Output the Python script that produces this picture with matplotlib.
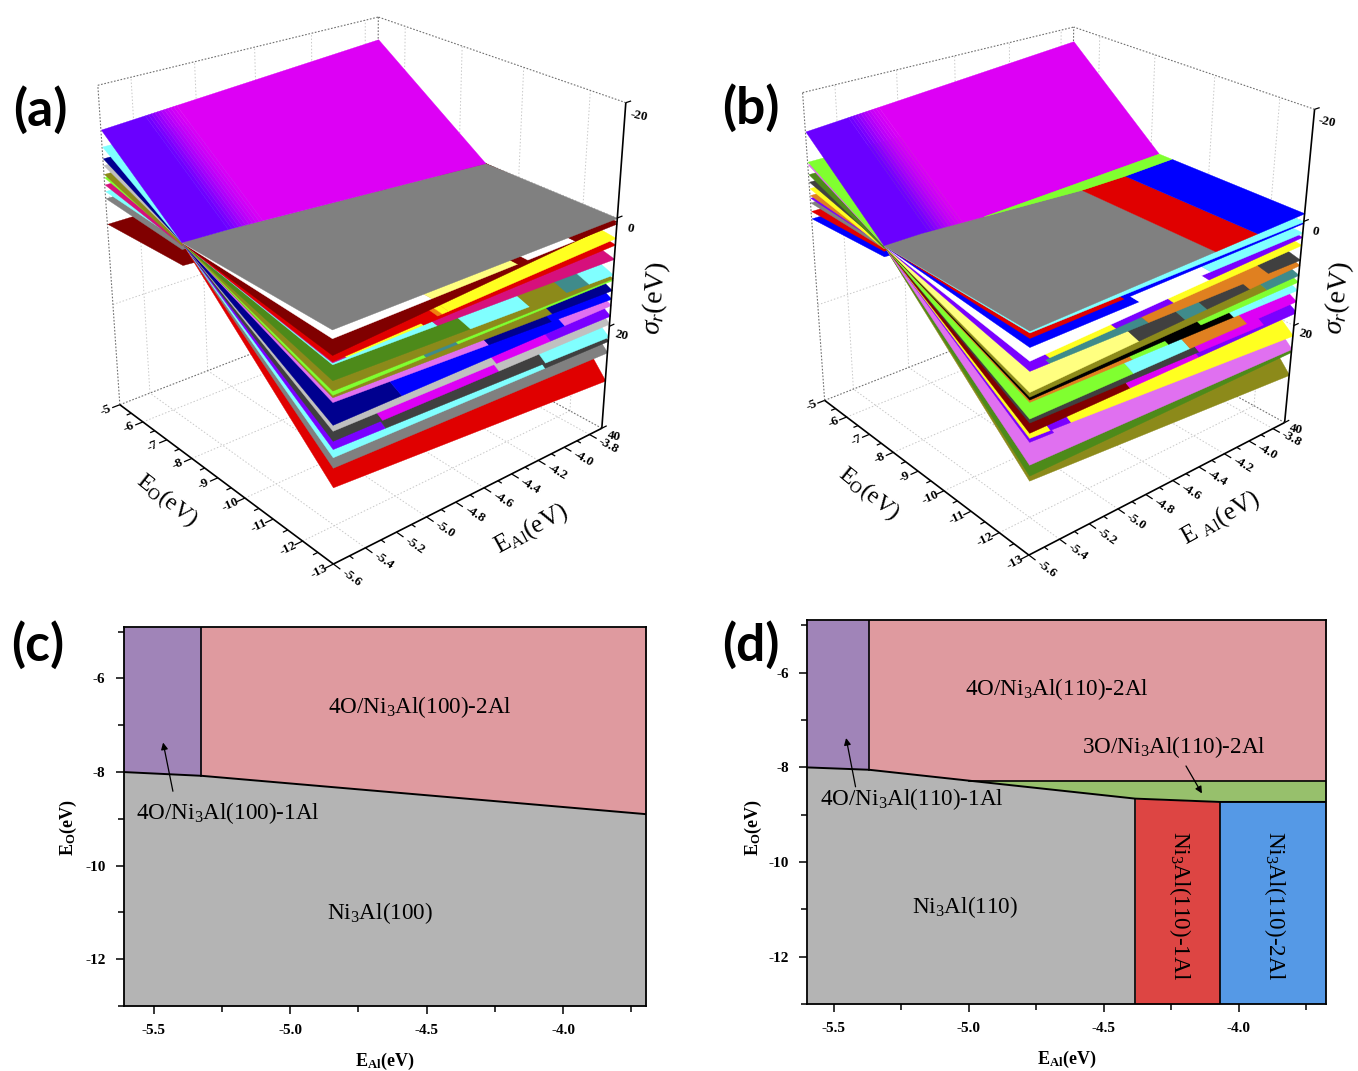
import numpy as np
import matplotlib
matplotlib.use('Agg')
import matplotlib.pyplot as plt
from mpl_toolkits.mplot3d import Axes3D, proj3d
from mpl_toolkits.mplot3d.art3d import Poly3DCollection, Line3DCollection

plt.rcParams['font.family'] = 'Liberation Serif'
plt.rcParams['mathtext.fontset'] = 'custom'
plt.rcParams['mathtext.rm'] = 'Liberation Serif'
plt.rcParams['mathtext.it'] = 'Liberation Serif:italic'
plt.rcParams['mathtext.bf'] = 'Liberation Serif:bold'
plt.rcParams['mathtext.default'] = 'regular'
plt.rcParams['axes.unicode_minus'] = False

W, H = 1358, 1071

# colours of the phases
darkred, red, crimson = '#800000', '#e00000', '#d6107c'
yellow, pale, cyan = '#ffff20', '#ffff80', '#80ffff'
green, olive, lgreen, teal = '#4d8a1a', '#8c8a1a', '#80ff30', '#3f8b8b'
navy, blue, lilac = '#00008f', '#0000ff', '#e070f0'
violet, magenta = '#7a00ff', '#dd00f5'
silver, dgray, gray, orange = '#c0c0c0', '#404040', '#808080', '#e08020'
white, black = '#ffffff', '#000000'

AL_MIN, AL_MAX = -5.6, -3.7
O_MIN, O_MAX = -13, -5
S_TOP, S_BOT = -20, 40

al_ticks = [-5.6, -5.4, -5.2, -5.0, -4.8, -4.6, -4.4, -4.2, -4.0, -3.8]
o_ticks = [-5, -6, -7, -8, -9, -10, -11, -12, -13]
s_ticks = [-20, 0, 20, 40]

# panel (a): sheets below the top one, top to bottom, sigma at E_O=-13
a_left = [1.4, 4.1, 5.1, 5.3, 5.6, 8.2, 9.9, 10.6, 11.0, 11.8, 15.6, 16.6, 18.3, 19.7, 21.1, 22.9, 26.3]
a_right = [1.0, 0.6, 3.6, 4.8, 7.4, 10.3, 11.0, 11.3, 13.2, 14.8, 16.0, 18.0, 19.5, 22.0, 22.8, 25.0, 30.5]
a_breaks = [
    [-5.0, -4.43, -4.36, -4.02],
    [],
    [-4.96, -4.93, -4.89],
    [-5.52, -5.05],
    [-4.96],
    [-4.74, -4.33, -4.06, -3.89],
    [],
    [-5.03, -4.82],
    [-4.16],
    [-4.61, -4.16],
    [-5.18, -4.06],
    [-4.55, -4.16],
    [-5.30, -4.53],
    [-5.28, -4.19],
    [-4.19],
    [],
    [],
]
a_colors = [
    [white, pale, darkred, white, darkred],
    [darkred],
    [red, '#f08010', yellow, yellow],
    [crimson, yellow, red],
    [cyan, crimson],
    [green, cyan, olive, teal, cyan],
    [olive],
    [lgreen, teal, lgreen],
    [olive, navy],
    [lilac, navy, blue],
    [navy, blue, lilac],
    [silver, magenta, violet],
    [dgray, magenta, silver],
    [violet, dgray, cyan],
    [cyan, dgray],
    [gray],
    [red],
]
# sigma at E_O=-5 and at the hinge of the sheets on the left edge, bottom first
a_far_sigma = [4.7, 0.0, -1.3, -2.5, -3.8, -4.4, -6.0, -7.2, -9.3]
a_far_hinge = [4.0, 1.2, 0.0, 0.5, 0.0, 0.5, 0.0, 0.0, 0.0]
a_far_colors = [darkred, gray, cyan, crimson, lgreen, olive, silver, navy, cyan]
a_top_far = [-12.3, -15.7]
a_top_near = [0.0, 0.0]
a_hinge_al = [-5.6, -5.325, -3.7]
a_hinge_o = [-8.0, -8.08, -8.9]
a_top_breaks = []
a_top_colors = [gray]
# panel (a) box corners, in pixels
a_box = [(333, 564), (120, 405), (602, 428), (98, 85), (626, 103), (378, 17)]

# panel (b)
b_left = [0.3, 1.2, 2.7, 5.0, 5.9, 6.7, 10.3, 11.1, 11.6, 12.0, 14.9, 15.6, 17.4, 18.3, 19.0, 23.1, 25.1, 26.0]
b_right = [0.0, 0.3, 2.1, 2.9, 4.4, 7.2, 8.2, 10.1, 11.4, 13.0, 15.2, 17.1, 17.5, 22.0, 22.05, 24.7, 25.3, 30.0]
b_breaks = [
    [],
    [-5.01],
    [-4.91, -4.41],
    [-4.42],
    [-5.48, -5.06, -4.67],
    [-5.48, -4.84, -3.96],
    [-4.90, -4.58, -4.42, -4.10],
    [-3.96],
    [-4.46],
    [-4.94, -4.69, -4.21, -3.96],
    [-4.93, -4.53, -4.10],
    [-4.46, -3.96],
    [-4.95, -4.46],
    [-5.47, -5.34],
    [-5.45],
    [],
    [],
    [],
]
b_colors = [
    [cyan],
    [red, blue],
    [blue, white, cyan],
    [white, violet],
    [violet, yellow, violet, yellow],
    [violet, teal, orange, dgray],
    [pale, dgray, teal, dgray, orange],
    [olive, teal],
    [black, lgreen],
    [orange, lgreen, black, cyan, cyan],
    [lgreen, cyan, orange, magenta],
    [dgray, magenta, violet],
    [darkred, magenta, violet],
    [yellow, violet, yellow],
    [violet, None],
    [lilac],
    [green],
    [olive],
]
b_far_sigma = [3.0, 1.6, 0.0, -0.9, -1.4, -2.7, -3.9, -5.3, -7.1, -7.6]
b_far_hinge = [2.0, 1.0, 0.5, 0.0, 0.0, 0.5, 0.0, 0.5, 0.0, 0.0]
b_far_colors = [blue, red, gray, violet, orange, yellow, dgray, green, lilac, lgreen]
b_top_far = [-13.1, -17.2]
b_top_near = [0.0, -1.5]
b_hinge_al = [-5.6, -5.37, -5.0, -4.383, -4.07, -3.7]
b_hinge_o = [-8.0, -8.05, -8.28, -8.66, -8.73, -8.73]
b_top_breaks = [-4.383, -4.07]
b_top_colors = [gray, red, blue]
b_wedge_al = [-5.0, -4.383, -4.07, -3.7]
b_wedge_low = [-8.28, -8.66, -8.73, -8.73]
b_wedge_high = -8.28
b_box = [(1028, 555), (825, 401), (1285, 422), (803, 92), (1315, 110), (1073, 27)]

# purple end of the top sheet
top_grad_al = [-5.6, -5.33, -5.31, -5.29, -5.27, -5.25, -5.23, -5.21, -5.19, -5.17, -5.15, -5.13]
top_grad_col = ['#6a00ff', '#7000ff', '#7c00fe', '#8a00fd', '#9800fc', '#a600fb',
                '#b200fa', '#be00f9', '#c800f8', '#d000f7', '#d800f6', magenta]

# panels (c), (d)
c_xlim, c_ylim = (-5.61, -3.696), (-13, -4.9)
d_xlim, d_ylim = (-5.6, -3.676), (-13, -4.885)
c_line_x = [-5.61, -5.325, -3.696]
c_line_y = [-8.0, -8.08, -8.9]
d_line_x = [-5.6, -5.37, -5.0, -4.383, -4.07, -3.676]
d_line_y = [-8.0, -8.05, -8.28, -8.66, -8.73, -8.73]
region_purple, region_pink, region_gray = '#a084b8', '#df9a9f', '#b4b4b4'
region_green, region_red, region_blue = '#97c06c', '#dd4543', '#5599e6'


def fit_projection(ax, box, left, top, size):
    # camera matrix from the six visible corners of the box
    corners = [(AL_MIN, O_MIN, S_BOT), (AL_MIN, O_MAX, S_BOT), (AL_MAX, O_MIN, S_BOT),
               (AL_MIN, O_MAX, S_TOP), (AL_MAX, O_MIN, S_TOP), (AL_MAX, O_MAX, S_TOP)]
    vx0, vx1 = ax.viewLim.intervalx
    vy0, vy1 = ax.viewLim.intervaly
    T = np.array([[1 / 0.95, 0, 0, 4.65 / 0.95], [0, 1 / 4, 0, 9 / 4],
                  [0, 0, 1 / 30, -10 / 30], [0, 0, 0, 1]])
    rows = []
    for (x, y, z), (px, py) in zip(corners, box):
        u = vx0 + (px - left) / size * (vx1 - vx0)
        v = vy0 + (top + size - py) / size * (vy1 - vy0)
        p = T @ np.array([x, y, z, 1])
        rows.append(np.r_[p * 100, 0, 0, 0, 0, -u * 100 * p])
        rows.append(np.r_[0, 0, 0, 0, p * 100, -v * 100 * p])
    sol = np.linalg.svd(np.array(rows))[2][-1].reshape(3, 4) @ T
    depth = np.linalg.svd(sol)[2][-1]
    return np.array([sol[0], sol[1], depth, sol[2]])


def draw_3d(box, left, top, size, sheets, far, top_far, top_near, hinge, top_seg, wedge=None,
            label_o=None, label_al=None, label_s=None):
    ax = fig.add_axes([left / W, 1 - (top + size) / H, size / W, size / H], projection='3d')
    ax.patch.set_visible(False)
    ax.set_axis_off()
    ax.computed_zorder = False
    M = fit_projection(ax, box, left, top, size)
    ax.get_proj = lambda: M
    z = [10]

    def line(xs, ys, zs, color='black', lw=1.0, ls='-'):
        z[0] += 1
        seg = Line3DCollection([list(zip(xs, ys, zs))], colors=color, linewidths=lw, linestyles=ls, zorder=z[0])
        seg.set_clip_on(False)
        ax.add_collection3d(seg)

    def quad(pts, color):
        z[0] += 1
        ax.add_collection3d(Poly3DCollection([pts], facecolors=color, edgecolors=color,
                                             linewidths=0.25, zorder=z[0]))

    def label(x, y, zv, s, rot=None, along=None, **kw):
        # text placed by the same projection as the surfaces
        u, v, _ = proj3d.proj_transform(x, y, zv, M)
        if along is not None:
            u2, v2, _ = proj3d.proj_transform(x + along[0], y + along[1], zv + along[2], M)
            rot = np.degrees(np.arctan2(v2 - v, u2 - u))
            rot = (rot + 90) % 180 - 90
        ax.text2D(u, v, s, transform=ax.transData, rotation=rot, rotation_mode='anchor',
                  ha='center', va='center', zorder=5000, **kw)

    # grid on the back walls and the floor
    grid = dict(color='#c8c8c8', lw=0.7, ls=(0, (1.5, 2)))
    for a in al_ticks[1::2]:
        line([a, a], [O_MIN, O_MAX], [S_BOT, S_BOT], **grid)
        line([a, a], [O_MAX, O_MAX], [S_BOT, S_TOP], **grid)
    for o in o_ticks[1::2]:
        line([AL_MIN, AL_MAX], [o, o], [S_BOT, S_BOT], **grid)
        line([AL_MAX, AL_MAX], [o, o], [S_BOT, S_TOP], **grid)
    for s in s_ticks[1:3]:
        line([AL_MIN, AL_MAX], [O_MAX, O_MAX], [s, s], **grid)
        line([AL_MAX, AL_MAX], [O_MIN, O_MAX], [s, s], **grid)
    frame = dict(color='#707070', lw=0.8, ls=(0, (1.5, 1.5)))
    line([AL_MIN, AL_MAX], [O_MAX, O_MAX], [S_BOT, S_BOT], **frame)
    line([AL_MAX, AL_MAX], [O_MIN, O_MAX], [S_BOT, S_BOT], **frame)
    line([AL_MAX, AL_MAX], [O_MAX, O_MAX], [S_BOT, S_TOP], **frame)
    line([AL_MIN, AL_MIN], [O_MAX, O_MAX], [S_BOT, S_TOP], **frame)
    line([AL_MIN, AL_MAX], [O_MAX, O_MAX], [S_TOP, S_TOP], **frame)
    line([AL_MAX, AL_MAX], [O_MIN, O_MAX], [S_TOP, S_TOP], **frame)

    hinge_al, hinge_o = hinge
    ho0, ho1 = hinge_o[0], hinge_o[-1]

    def hinge_at(a):
        return ho0 + (ho1 - ho0) * (a - AL_MIN) / (AL_MAX - AL_MIN)

    # far side of the lower sheets
    for s, h, c in zip(*far):
        quad([(AL_MIN, O_MAX, s), (AL_MAX, O_MAX, s), (AL_MAX, ho1, h), (AL_MIN, ho0, h)], c)

    # near side, lowest first
    left_s, right_s, breaks, colors = sheets
    for sl, sr, br, cols in list(zip(left_s, right_s, breaks, colors))[::-1]:
        edges = [AL_MIN] + br + [AL_MAX]
        for a0, a1, c in zip(edges[:-1], edges[1:], cols):
            if c is None:
                continue
            s0 = sl + (sr - sl) * (a0 - AL_MIN) / (AL_MAX - AL_MIN)
            s1 = sl + (sr - sl) * (a1 - AL_MIN) / (AL_MAX - AL_MIN)
            quad([(a0, O_MIN, s0), (a1, O_MIN, s1), (a1, hinge_at(a1), 0), (a0, hinge_at(a0), 0)], c)

    def near_top(a):
        return top_near[0] + (top_near[1] - top_near[0]) * (a - AL_MIN) / (AL_MAX - AL_MIN)

    def far_top(a):
        return top_far[0] + (top_far[1] - top_far[0]) * (a - AL_MIN) / (AL_MAX - AL_MIN)

    # top sheet, near part
    edges = [AL_MIN] + top_seg[0] + [AL_MAX]
    for a0, a1, c in zip(edges[:-1], edges[1:], top_seg[1]):
        hs = [a for a in hinge_al if a0 < a < a1]
        al = [a0] + hs + [a1]
        pts = [(a0, O_MIN, near_top(a0)), (a1, O_MIN, near_top(a1))]
        pts += [(a, np.interp(a, hinge_al, hinge_o), near_top(a)) for a in al[::-1]]
        quad(pts, c)

    # top sheet, far part, with its purple end
    up = wedge[2] if wedge else None
    fe = top_grad_al + [AL_MAX]
    for a0, a1, c in zip(fe[:-1], fe[1:], top_grad_col):
        al = [a0] + [a for a in hinge_al if a0 < a < a1] + [a1]
        if wedge:
            low = [max(np.interp(a, hinge_al, hinge_o), up) if a >= wedge[0][0] else np.interp(a, hinge_al, hinge_o) for a in al]
        else:
            low = [np.interp(a, hinge_al, hinge_o) for a in al]
        pts = [(a0, O_MAX, far_top(a0)), (a1, O_MAX, far_top(a1))]
        pts += [(a, o, near_top(a)) for a, o in zip(al[::-1], low[::-1])]
        quad(pts, c)
    if wedge:
        al, low = wedge[0], wedge[1]
        pts = [(a, up, near_top(a)) for a in al] + [(a, o, near_top(a)) for a, o in zip(al[::-1], low[::-1])]
        quad(pts, lgreen)

    # axes
    ax_line = dict(color='black', lw=1.2)
    line([AL_MIN, AL_MAX], [O_MIN, O_MIN], [S_BOT, S_BOT], **ax_line)
    line([AL_MIN, AL_MIN], [O_MIN, O_MAX], [S_BOT, S_BOT], **ax_line)
    line([AL_MAX, AL_MAX], [O_MIN, O_MIN], [S_BOT, S_TOP], **ax_line)
    tick = dict(color='black', lw=0.9)
    for a in al_ticks:
        line([a, a], [O_MIN, O_MIN - 0.22], [S_BOT, S_BOT], **tick)
        label(a, O_MIN - 0.58, S_BOT, '%.1f' % a, along=(0, 1, 0), fontsize=9.5, fontweight='bold')
    for a in al_ticks[:-1]:
        line([a + 0.1, a + 0.1], [O_MIN, O_MIN - 0.12], [S_BOT, S_BOT], **tick)
    for o in o_ticks:
        line([AL_MIN, AL_MIN - 0.05], [o, o], [S_BOT, S_BOT], **tick)
        label(AL_MIN - 0.09, o, S_BOT, '%d' % o, along=(1, 0, 0), fontsize=9.5, fontweight='bold')
    for o in o_ticks[:-1]:
        line([AL_MIN, AL_MIN - 0.03], [o - 0.5, o - 0.5], [S_BOT, S_BOT], **tick)
    for s in s_ticks:
        line([AL_MAX, AL_MAX + 0.04], [O_MIN, O_MIN], [s, s], **tick)
        label(AL_MAX + 0.11, O_MIN, s + 3, '%d' % s, rot=-12, fontsize=9.5, fontweight='bold')
    label(*label_o, 'E$_{O}$(eV)', along=(0, 1, 0), fontsize=17)
    label(*label_al[0], label_al[1], along=(1, 0, 0), fontsize=18)
    label(*label_s, r'$\mathit{\sigma_r}$(eV)', along=(0, 0, -1), fontsize=20)
    return ax


def style_2d(ax, xlim, ylim, ylab_x, ylab_y):
    ax.set_xlim(xlim)
    ax.set_ylim(ylim)
    ax.set_xticks([-5.5, -5.0, -4.5, -4.0])
    ax.set_xticklabels(['-5.5', '-5.0', '-4.5', '-4.0'])
    ax.set_xticks([-5.25, -4.75, -4.25, -3.75], minor=True)
    ax.set_yticks([-6, -8, -10, -12])
    ax.set_yticks([-5, -7, -9, -11, -13], minor=True)
    ax.tick_params(which='major', length=6, width=1.1, labelsize=11, pad=7)
    ax.tick_params(which='minor', length=4, width=1.1)
    for lab in ax.get_xticklabels() + ax.get_yticklabels():
        lab.set_fontweight('bold')
    for sp in ax.spines.values():
        sp.set_linewidth(1.3)
    ax.set_xlabel('E$_{Al}$(eV)', fontsize=13, fontweight='bold', labelpad=10)
    ax.set_ylabel('E$_{O}$(eV)', fontsize=13, fontweight='bold')
    ax.yaxis.set_label_coords(ylab_x, ylab_y)


fig = plt.figure(figsize=(W / 100, H / 100), dpi=100)

draw_3d(a_box, 40, 0, 680, (a_left, a_right, a_breaks, a_colors), (a_far_sigma, a_far_hinge, a_far_colors),
        a_top_far, a_top_near, (a_hinge_al, a_hinge_o), (a_top_breaks, a_top_colors),
        label_o=(-5.915, -9.0, 40), label_al=((-4.67, -14.7, 40), 'E$_{Al}$(eV)'), label_s=(-3.33, -13, 18.5))
draw_3d(b_box, 740, 0, 618, (b_left, b_right, b_breaks, b_colors), (b_far_sigma, b_far_hinge, b_far_colors),
        b_top_far, b_top_near, (b_hinge_al, b_hinge_o), (b_top_breaks, b_top_colors),
        wedge=(b_wedge_al, b_wedge_low, b_wedge_high),
        label_o=(-5.915, -9.0, 40), label_al=((-4.65, -14.7, 40), 'E $_{Al}$(eV)'), label_s=(-3.33, -13, 18.5))

# panel (c)
ax = fig.add_axes([123.5 / W, 1 - 1006 / H, 522.5 / W, 379 / H])
ax.fill_between(c_line_x, c_line_y, c_ylim[0], color=region_gray, lw=0)
ax.fill_between([c_xlim[0], c_line_x[1]], [c_line_y[0], c_line_y[1]], c_ylim[1], color=region_purple, lw=0)
ax.fill_between(c_line_x[1:], c_line_y[1:], c_ylim[1], color=region_pink, lw=0)
ax.plot(c_line_x, c_line_y, color='black', lw=1.4)
ax.plot([c_line_x[1], c_line_x[1]], [c_line_y[1], c_ylim[1]], color='black', lw=1.2)
style_2d(ax, c_xlim, c_ylim, -0.085, 0.47)
ax.text(-4.523, -6.62, '4O/Ni$_3$Al(100)-2Al', fontsize=16.7, ha='center', va='center')
ax.text(-5.227, -8.88, '4O/Ni$_3$Al(100)-1Al', fontsize=16.7, ha='center', va='center')
ax.text(-4.67, -11.02, 'Ni$_3$Al(100)', fontsize=16.7, ha='center', va='center')
ax.annotate('', xy=(-5.465, -7.37), xytext=(-5.429, -8.41),
            arrowprops=dict(arrowstyle='-|>', color='black', lw=0.9, shrinkA=0, shrinkB=0))

# panel (d)
ax = fig.add_axes([807 / W, 1 - 1004 / H, 519 / W, 384 / H])
ax.fill_between(d_line_x[:4], d_line_y[:4], d_ylim[0], color=region_gray, lw=0)
ax.fill_between(d_line_x[:2], d_line_y[:2], d_ylim[1], color=region_purple, lw=0)
ax.fill_between([d_line_x[1], d_line_x[2], d_xlim[1]], [d_line_y[1], d_line_y[2], d_line_y[2]], d_ylim[1],
                color=region_pink, lw=0)
ax.fill_between(d_line_x[2:], d_line_y[2:], d_line_y[2], color=region_green, lw=0)
ax.fill_between(d_line_x[3:5], d_line_y[3:5], d_ylim[0], color=region_red, lw=0)
ax.fill_between(d_line_x[4:], d_line_y[4:], d_ylim[0], color=region_blue, lw=0)
ax.plot(d_line_x, d_line_y, color='black', lw=1.4)
ax.plot([d_line_x[2], d_xlim[1]], [d_line_y[2], d_line_y[2]], color='black', lw=1.2)
ax.plot([d_line_x[1], d_line_x[1]], [d_line_y[1], d_ylim[1]], color='black', lw=1.2)
ax.plot([d_line_x[3], d_line_x[3]], [d_line_y[3], d_ylim[0]], color='black', lw=1.2)
ax.plot([d_line_x[4], d_line_x[4]], [d_line_y[4], d_ylim[0]], color='black', lw=1.2)
style_2d(ax, d_xlim, d_ylim, -0.083, 0.46)
ax.text(-4.673, -6.34, '4O/Ni$_3$Al(110)-2Al', fontsize=16.7, ha='center', va='center')
ax.text(-4.24, -7.57, '3O/Ni$_3$Al(110)-2Al', fontsize=16.7, ha='center', va='center')
ax.text(-5.21, -8.67, '4O/Ni$_3$Al(110)-1Al', fontsize=16.7, ha='center', va='center')
ax.text(-5.014, -10.95, 'Ni$_3$Al(110)', fontsize=16.7, ha='center', va='center')
ax.text(-4.217, -10.91, 'Ni$_3$Al(110)-1Al', fontsize=16.7, rotation=-90, ha='center', va='center')
ax.text(-3.865, -10.91, 'Ni$_3$Al(110)-2Al', fontsize=16.7, rotation=-90, ha='center', va='center')
ax.annotate('', xy=(-5.455, -7.38), xytext=(-5.42, -8.41),
            arrowprops=dict(arrowstyle='-|>', color='black', lw=0.9, shrinkA=0, shrinkB=0))
ax.annotate('', xy=(-4.136, -8.55), xytext=(-4.195, -7.97),
            arrowprops=dict(arrowstyle='-|>', color='black', lw=0.9, shrinkA=0, shrinkB=0))

# panel letters
for label_txt, px, py in [('(a)', 40, 110), ('(b)', 751, 108), ('(c)', 38, 645), ('(d)', 751, 645)]:
    fig.text(px / W, 1 - py / H, label_txt, fontsize=37, fontweight='bold', family='Lato', ha='center', va='center')

fig.savefig('out.png', dpi=100)
